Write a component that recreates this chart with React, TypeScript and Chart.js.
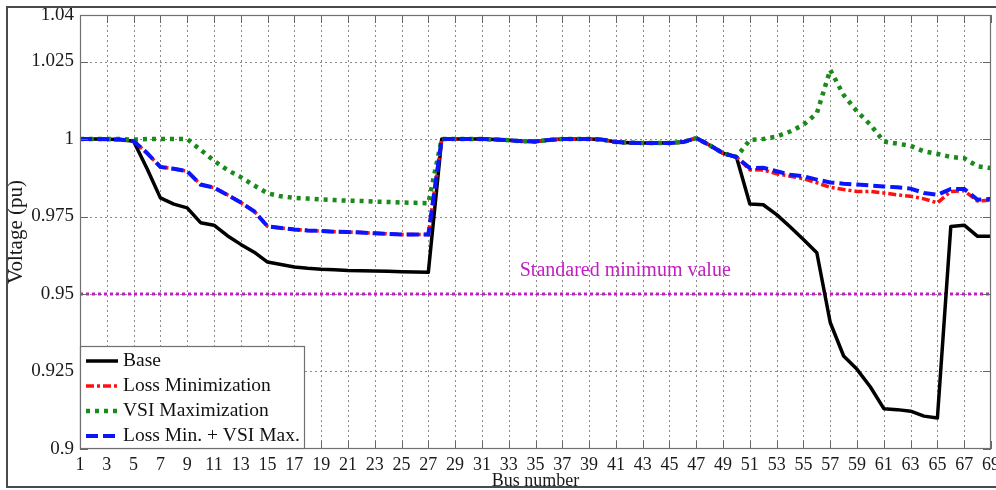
import { useEffect, useRef } from "react";
import { Chart, registerables } from "chart.js";

Chart.register(...registerables);

const busNumbers = [
  1, 2, 3, 4, 5, 6, 7, 8, 9, 10, 11, 12, 13, 14, 15, 16, 17, 18, 19, 20, 21, 22, 23,
  24, 25, 26, 27, 28, 29, 30, 31, 32, 33, 34, 35, 36, 37, 38, 39, 40, 41, 42, 43, 44, 45,
  46, 47, 48, 49, 50, 51, 52, 53, 54, 55, 56, 57, 58, 59, 60, 61, 62, 63, 64, 65, 66, 67,
  68, 69,
];

const xTickValues = [
  1, 3, 5, 7, 9, 11, 13, 15, 17, 19, 21, 23, 25, 27, 29, 31, 33, 35, 37, 39, 41, 43, 45,
  47, 49, 51, 53, 55, 57, 59, 61, 63, 65, 67, 69,
];

const yTickValues = [0.9, 0.925, 0.95, 0.975, 1, 1.025, 1.04];

const baseCase = [
  1.0, 1.0, 0.9999, 0.9998, 0.9993, 0.9905, 0.981, 0.979, 0.9778, 0.973, 0.9722, 0.9688,
  0.966, 0.9635, 0.9603, 0.9595, 0.9587, 0.9583, 0.958, 0.9578, 0.9576, 0.9575, 0.9574,
  0.9573, 0.9572, 0.9571, 0.957,
  1.0, 1.0, 1.0, 1.0, 0.9998, 0.9996, 0.9993, 0.9992, 0.9997, 1.0, 1.0, 1.0, 0.9998,
  0.999, 0.9988, 0.9987, 0.9987, 0.9987, 0.999, 1.0003, 0.998, 0.9954, 0.9942,
  0.979, 0.9788, 0.9756, 0.9717, 0.9676, 0.9633, 0.9408, 0.93, 0.9257, 0.92, 0.913,
  0.9127, 0.9122, 0.9106, 0.91, 0.9718, 0.9722, 0.9686, 0.9686,
];

const lossMinimization = [
  1.0, 1.0, 0.9999, 0.9998, 0.9993, 0.9955, 0.991, 0.9904, 0.9896, 0.9853, 0.9843, 0.982,
  0.9795, 0.9767, 0.9718, 0.9713, 0.9708, 0.9705, 0.9703, 0.9701, 0.97, 0.9698, 0.9696,
  0.9694, 0.9692, 0.9692, 0.9692,
  1.0, 1.0, 1.0, 1.0, 0.9998, 0.9996, 0.9993, 0.9992, 0.9997, 1.0, 1.0, 1.0, 0.9998,
  0.999, 0.9988, 0.9987, 0.9987, 0.9987, 0.999, 1.0003, 0.998, 0.9954, 0.9942,
  0.9901, 0.99, 0.9888, 0.988, 0.9872, 0.9859, 0.9844, 0.9837, 0.9831, 0.9831, 0.9826,
  0.982, 0.9815, 0.9807, 0.9794, 0.9831, 0.9833, 0.98, 0.9803,
];

const vsiMaximization = [
  1.0, 1.0, 1.0, 1.0, 0.9998, 1.0, 1.0, 1.0, 1.0, 0.9965, 0.993, 0.99, 0.9877, 0.985,
  0.9825, 0.9815, 0.981, 0.9808, 0.9805, 0.9803, 0.9801, 0.98, 0.9798, 0.9797, 0.9795,
  0.9794, 0.9793,
  1.0, 1.0, 1.0, 1.0, 0.9998, 0.9996, 0.9993, 0.9992, 0.9997, 1.0, 1.0, 1.0, 0.9998,
  0.999, 0.9988, 0.9987, 0.9987, 0.9987, 0.999, 1.0003, 0.998, 0.9954, 0.9942,
  0.9997, 1.0, 1.0008, 1.0024, 1.0046, 1.0083, 1.0223, 1.0142, 1.0089, 1.0046, 0.9992,
  0.9985, 0.9978, 0.996, 0.9952, 0.9942, 0.9938, 0.9912, 0.9906,
];

const lossMinVsiMax = [
  1.0, 1.0, 0.9999, 0.9998, 0.9993, 0.9955, 0.991, 0.9904, 0.9896, 0.9853, 0.9843, 0.982,
  0.9795, 0.9767, 0.9718, 0.9713, 0.9708, 0.9705, 0.9703, 0.9701, 0.97, 0.9698, 0.9696,
  0.9694, 0.9692, 0.9692, 0.9692,
  1.0, 1.0, 1.0, 1.0, 0.9998, 0.9996, 0.9993, 0.9992, 0.9997, 1.0, 1.0, 1.0, 0.9998,
  0.999, 0.9988, 0.9987, 0.9987, 0.9987, 0.999, 1.0003, 0.998, 0.9954, 0.9942,
  0.9906, 0.9907, 0.9896, 0.9885, 0.988, 0.9869, 0.986, 0.9856, 0.9853, 0.985, 0.9847,
  0.9844, 0.984, 0.9826, 0.982, 0.9839, 0.9839, 0.9804, 0.9807,
];

const standardMinBus = [1, 69];
const standardMinValue = [0.95, 0.95];

const seriesLabels = ["Base", "Loss Minimization", "VSI Maximization", "Loss Min. + VSI Max."];
const annotationText = "Standared minimum value";
const annotationBus = 41.7;
const annotationVoltage = 0.9575;

const SERIF = '"Liberation Serif", "Times New Roman", serif';
const COLORS = {
  base: "#000000",
  loss: "#ff1010",
  vsi: "#1a8a1a",
  both: "#0a14ff",
  minLine: "#c020c0",
};

const toPoints = (vals: number[]) => busNumbers.map((b, i) => ({ x: b, y: vals[i] }));

const legendStyles = [
  { color: COLORS.base, width: 3.5, dash: [] as number[] },
  { color: COLORS.loss, width: 3.5, dash: [8, 3, 3, 3] },
  { color: COLORS.vsi, width: 4.5, dash: [4, 5] },
  { color: COLORS.both, width: 4, dash: [12, 5] },
];

const decorPlugin = {
  id: "decor",
  beforeDraw(chart: any) {
    const ctx = chart.ctx;
    ctx.save();
    ctx.fillStyle = "#ffffff";
    ctx.fillRect(0, 0, chart.width, chart.height);
    ctx.restore();
  },
  beforeDatasetsDraw(chart: any) {
    const { ctx, chartArea: a, scales } = chart;
    const xs = scales.x;
    const ys = scales.y;
    ctx.save();
    ctx.strokeStyle = "#8a8a8a";
    ctx.lineWidth = 1;
    ctx.setLineDash([2, 3]);
    xTickValues.forEach((v) => {
      const px = Math.round(xs.getPixelForValue(v)) + 0.5;
      if (px <= a.left + 1 || px >= a.right - 1) return;
      ctx.beginPath();
      ctx.moveTo(px, a.top);
      ctx.lineTo(px, a.bottom);
      ctx.stroke();
    });
    yTickValues.forEach((v) => {
      const py = Math.round(ys.getPixelForValue(v)) + 0.5;
      if (py <= a.top + 1 || py >= a.bottom - 1) return;
      ctx.beginPath();
      ctx.moveTo(a.left, py);
      ctx.lineTo(a.right, py);
      ctx.stroke();
    });
    ctx.restore();
  },
  afterDatasetsDraw(chart: any) {
    const { ctx, chartArea: a, scales } = chart;
    const xs = scales.x;
    const ys = scales.y;
    ctx.save();
    // tick marks
    ctx.strokeStyle = "#666666";
    ctx.lineWidth = 1;
    ctx.setLineDash([]);
    const tl = 8;
    xTickValues.forEach((v) => {
      const px = Math.round(xs.getPixelForValue(v)) + 0.5;
      ctx.beginPath();
      ctx.moveTo(px, a.bottom);
      ctx.lineTo(px, a.bottom - tl);
      ctx.moveTo(px, a.top);
      ctx.lineTo(px, a.top + tl);
      ctx.stroke();
    });
    yTickValues.forEach((v) => {
      const py = Math.round(ys.getPixelForValue(v)) + 0.5;
      ctx.beginPath();
      ctx.moveTo(a.left, py);
      ctx.lineTo(a.left + tl, py);
      ctx.moveTo(a.right, py);
      ctx.lineTo(a.right - tl, py);
      ctx.stroke();
    });
    // plot border
    ctx.strokeStyle = "#707070";
    ctx.lineWidth = 1.2;
    ctx.strokeRect(a.left + 0.5, a.top + 0.5, a.right - a.left - 1, a.bottom - a.top - 1);

    // annotation
    ctx.fillStyle = COLORS.minLine;
    ctx.font = `20px ${SERIF}`;
    ctx.textAlign = "center";
    ctx.textBaseline = "middle";
    ctx.fillText(annotationText, xs.getPixelForValue(annotationBus), ys.getPixelForValue(annotationVoltage));

    // legend
    const lw = 224;
    const lh = 103;
    const lx = a.left;
    const ly = a.bottom - lh;
    ctx.fillStyle = "#ffffff";
    ctx.fillRect(lx, ly, lw, lh);
    ctx.strokeStyle = "#707070";
    ctx.lineWidth = 1.2;
    ctx.strokeRect(lx + 0.5, ly + 0.5, lw, lh - 1);
    ctx.font = `19.5px ${SERIF}`;
    ctx.textAlign = "left";
    ctx.textBaseline = "middle";
    seriesLabels.forEach((label, i) => {
      const cy = ly + 15 + i * 25;
      const st = legendStyles[i];
      ctx.strokeStyle = st.color;
      ctx.lineWidth = st.width;
      ctx.setLineDash(st.dash);
      ctx.beginPath();
      ctx.moveTo(lx + 6, cy);
      ctx.lineTo(lx + 38, cy);
      ctx.stroke();
      ctx.setLineDash([]);
      ctx.fillStyle = "#111111";
      ctx.fillText(label, lx + 43, cy);
    });

    ctx.restore();
  },
  afterDraw(chart: any) {
    const ctx = chart.ctx;
    ctx.save();
    ctx.strokeStyle = "#4a4a4a";
    ctx.lineWidth = 2;
    ctx.strokeRect(7, 7, chart.width + 10, 480);
    ctx.restore();
  },
};

export default function App() {
  const canvasRef = useRef<HTMLCanvasElement | null>(null);

  useEffect(() => {
    document.body.style.margin = "0";
    const canvas = canvasRef.current;
    if (!canvas) return;
    const xTickFont = { family: SERIF, size: 18 };
    const yTickFont = { family: SERIF, size: 19 };
    const titleFont = { family: SERIF, size: 21 };
    const chart = new Chart(canvas, {
      type: "line",
      data: {
        datasets: [
          {
            label: seriesLabels[0],
            data: toPoints(baseCase),
            borderColor: COLORS.base,
            borderWidth: 3.5,
            pointRadius: 0,
            tension: 0,
            order: 4,
            borderJoinStyle: "round",
          },
          {
            label: seriesLabels[1],
            data: toPoints(lossMinimization),
            borderColor: COLORS.loss,
            borderWidth: 3.5,
            borderDash: [8, 3, 3, 3],
            pointRadius: 0,
            tension: 0,
            order: 3,
          },
          {
            label: seriesLabels[2],
            data: toPoints(vsiMaximization),
            borderColor: COLORS.vsi,
            borderWidth: 4.5,
            borderDash: [4, 5],
            pointRadius: 0,
            tension: 0,
            order: 2,
          },
          {
            label: seriesLabels[3],
            data: toPoints(lossMinVsiMax),
            borderColor: COLORS.both,
            borderWidth: 4,
            borderDash: [12, 5],
            pointRadius: 0,
            tension: 0,
            order: 1,
          },
          {
            label: "Standard minimum",
            data: standardMinBus.map((b, i) => ({ x: b, y: standardMinValue[i] })),
            borderColor: COLORS.minLine,
            borderWidth: 3,
            borderDash: [3, 3],
            pointRadius: 0,
            tension: 0,
            order: 5,
          },
        ],
      },
      options: {
        animation: false,
        responsive: false,
        maintainAspectRatio: false,
        events: [],
        layout: { padding: { left: 0, top: 15, right: 5, bottom: 0 } },
        plugins: {
          legend: { display: false },
          tooltip: { enabled: false },
          title: { display: false },
        },
        scales: {
          x: {
            type: "linear",
            min: 1,
            max: 69,
            afterBuildTicks: (s: any) => {
              s.ticks = xTickValues.map((v) => ({ value: v }));
            },
            afterFit: (s: any) => {
              s.height = 41;
              s.paddingLeft = 0;
              s.paddingRight = 0;
            },
            grid: { display: false, drawTicks: false },
            border: { display: false },
            ticks: {
              autoSkip: false,
              maxRotation: 0,
              padding: 5,
              color: "#1a1a1a",
              font: xTickFont,
              callback: (v: any) => String(v),
            },
            title: {
              display: true,
              text: "Bus number",
              color: "#1a1a1a",
              font: xTickFont,
              padding: { top: 0, bottom: -2 },
            },
          },
          y: {
            type: "linear",
            min: 0.9,
            max: 1.04,
            afterBuildTicks: (s: any) => {
              s.ticks = yTickValues.map((v) => ({ value: v }));
            },
            afterFit: (s: any) => {
              s.width = 80;
              s.paddingTop = 0;
              s.paddingBottom = 0;
            },
            grid: { display: false, drawTicks: false },
            border: { display: false },
            ticks: {
              autoSkip: false,
              padding: 6,
              color: "#1a1a1a",
              font: yTickFont,
              callback: (v: any) => String(Math.round(Number(v) * 1000) / 1000),
            },
            title: {
              display: true,
              text: "Voltage (pu)",
              color: "#1a1a1a",
              font: titleFont,
              padding: { top: 4, bottom: 0 },
            },
          },
        },
      },
      plugins: [decorPlugin],
    } as any);
    return () => chart.destroy();
  }, []);

  return (
    <div style={{ width: 996, height: 490 }}>
      <canvas ref={canvasRef} width={996} height={490} style={{ display: "block" }} />
    </div>
  );
}
